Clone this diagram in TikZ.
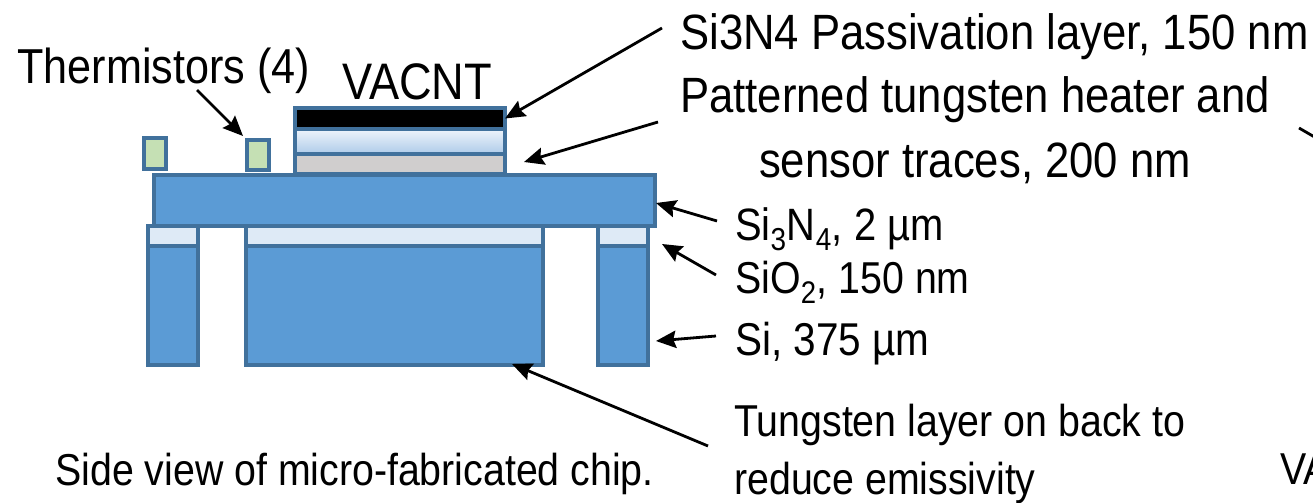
\documentclass[tikz,border=0pt]{standalone}
\usepackage{fontspec}
\setmainfont[FakeStretch=0.88]{Liberation Sans}
\usetikzlibrary{arrows.meta}
\usetikzlibrary{positioning}

\definecolor{chipblue}{HTML}{5B9BD5}
\definecolor{chipedge}{HTML}{41719C}
\definecolor{oxide}{HTML}{DEEAF6}
\definecolor{thermgreen}{HTML}{C5E0B4}
\definecolor{seedgray}{HTML}{D0CECE}
\definecolor{heatertop}{HTML}{EEF4FB}
\definecolor{heaterbot}{HTML}{AECBE9}

\tikzset{
  layer/.style={draw=chipedge, line width=2.3pt, fill=chipblue, inner sep=0pt, outer sep=0pt},
  label big/.style={inner sep=0pt, font=\fontsize{37.2}{48.7}\selectfont},
  label mid/.style={inner sep=0pt, anchor=base west, font=\fontsize{33.5}{43.5}\selectfont},
  callout/.style={->, line width=2.1pt}
}

\begin{document}
\begin{tikzpicture}[x=0.75pt, y=-0.75pt, >={Stealth[length=15pt,width=13pt,inset=2pt]}]
\useasboundingbox (0,0) rectangle (1313,503);

% legs and oxide under the membrane
\foreach \m/\x/\w in {1/173/50, 2/394.5/297, 3/623/50} {
  \node [layer, minimum width=\w*0.75pt, minimum height=89.25pt] (si-\m) at (\x,305.5) {};
  \node [layer, fill=oxide, minimum width=\w*0.75pt, minimum height=15pt] (oxide-\m) at (\x,236) {};
}

\node [layer, minimum width=375.75pt, minimum height=38.25pt] (nitride) at (404.5,200.5) {};

% stack on top
\node [layer, fill=seedgray, minimum width=157.5pt, minimum height=15pt] (seed) at (400,164) {};
\node [layer, top color=heatertop, bottom color=heaterbot, minimum width=157.5pt, minimum height=18.75pt] (heater) at (400,141.5) {};
\node [layer, fill=black, minimum width=157.5pt, minimum height=15.75pt] (vacnt) at (400,118.5) {};

\node [layer, fill=thermgreen, minimum width=16.5pt, minimum height=23.25pt] (therm-1) at (155,153.5) {};
\node [layer, fill=thermgreen, minimum width=16.5pt, minimum height=22.5pt] (therm-2) at (258,155) {};

% labels
\node [label mid, font=\fontsize{36.8}{48.7}\selectfont] (lab-therm) at (17,84) {Thermistors (4)};
\node [label mid, font=\fontsize{38.5}{48.7}\selectfont] (lab-vacnt) at (342,99) {VACNT};
\node [label big, anchor=base west] (lab-passiv) at (680,50) {Si3N4 Passivation layer, 150 nm};
\node [label big, align=center, anchor=north] (lab-heater) at (975,76) {Patterned tungsten heater and\\sensor traces, 200 nm};
\node [label mid, font=\fontsize{34}{43.5}\selectfont] (lab-nitride) at (735,240) {Si\textsubscript{3}N\textsubscript{4}, 2 µm};
\node [label mid] (lab-oxide) at (735,293) {SiO\textsubscript{2}, 150 nm};
\node [label mid, font=\fontsize{34.5}{43.5}\selectfont] (lab-si) at (735,355) {Si, 375 µm};
\node [label mid, align=left, anchor=north west] (lab-back) at (734,404) {Tungsten layer on back to\\reduce emissivity};
\node [label mid] (lab-view) at (55,485) {Side view of micro-fabricated chip.};
\node [label mid] (lab-cut) at (1280,484) {VA};

% free ends of the connectors
\coordinate (tail-therm) at (197,90);
\coordinate (tail-passiv) at (662,28);
\coordinate (tail-heater) at (658,122);
\coordinate (tail-nitride) at (717,221);
\coordinate (tail-oxide) at (716,275);
\coordinate (tail-si) at (716,336);
\coordinate (tail-back) at (708,446);
\coordinate (tail-cut) at (1299,128);
\coordinate (tip-cut) at (1330,146);
\coordinate (tip-therm) at (243,136);
\coordinate (tip-heater) at (524,162);
\coordinate (tip-nitride) at (656,203);
\coordinate (tip-oxide) at (662,244);
\coordinate (tip-si) at (656,341);
\coordinate (tip-back) at (512,364);

\draw [callout] (tail-therm) -- (tip-therm);
\draw [callout] (tail-passiv) -- (vacnt.east);
\draw [callout] (tail-heater) -- (tip-heater);
\draw [callout] (tail-nitride) -- (tip-nitride);
\draw [callout] (tail-oxide) -- (tip-oxide);
\draw [callout] (tail-si) -- (tip-si);
\draw [callout] (tail-back) -- (tip-back);
\draw [line width=2.1pt] (tail-cut) -- (tip-cut);

\end{tikzpicture}
\end{document}
